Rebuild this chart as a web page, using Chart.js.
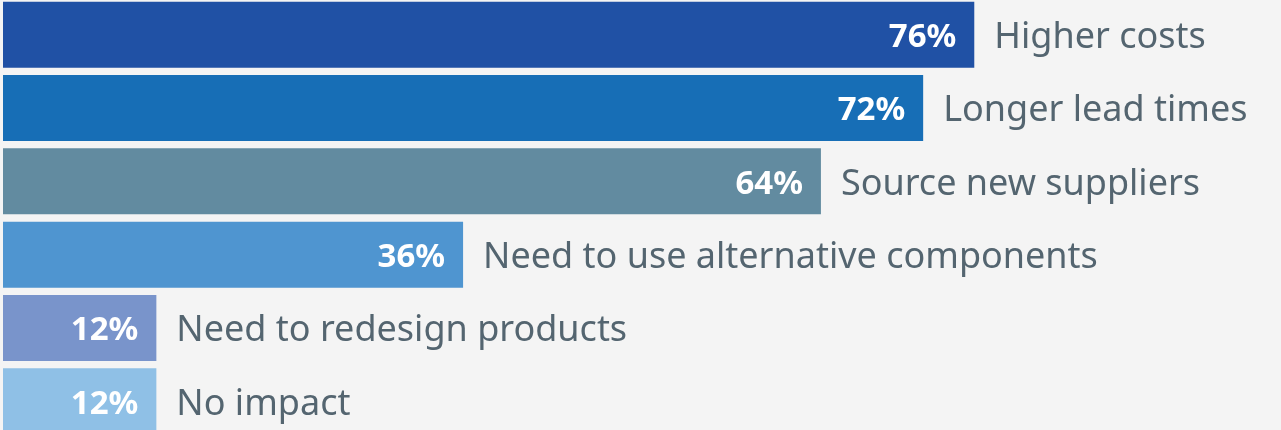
<!DOCTYPE html>
<html>
<head>
<meta charset="utf-8">
<script src="https://cdn.jsdelivr.net/npm/chart.js@4.4.1/dist/chart.umd.min.js"></script>
<style>
  html, body { margin: 0; padding: 0; background: #f4f4f4; overflow: hidden; }
  #wrap { position: absolute; left: 0; top: -2px; width: 1281px; height: 440px; }
</style>
</head>
<body>
<div id="wrap"><canvas id="c"></canvas></div>
<script>
const categories = [
  'Higher costs',
  'Longer lead times',
  'Source new suppliers',
  'Need to use alternative components',
  'Need to redesign products',
  'No impact'
];
const shares = [76, 72, 64, 36, 12, 12];
const barColors = ['#2051a5', '#176eb6', '#628ba0', '#4f95d0', '#7994cb', '#8fc0e6'];

const FONT = '"Noto Sans", "Open Sans", sans-serif';

// Writes the percentage inside each bar end and the category name after it
const barLabels = {
  id: 'barLabels',
  afterDatasetsDraw(chart) {
    const ctx = chart.ctx;
    const meta = chart.getDatasetMeta(0);
    ctx.save();
    ctx.textBaseline = 'middle';
    meta.data.forEach((bar, i) => {
      const y = bar.y;
      ctx.fillStyle = '#ffffff';
      ctx.font = 'bold 33px ' + FONT;
      ctx.textAlign = 'right';
      ctx.fillText(shares[i] + '%', bar.x - 18, y + 3);
      ctx.fillStyle = '#546570';
      ctx.font = '36px ' + FONT;
      ctx.textAlign = 'left';
      ctx.fillText(categories[i], bar.x + 20, y + 3);
    });
    ctx.restore();
  }
};

new Chart(document.getElementById('c'), {
  type: 'bar',
  data: {
    labels: categories,
    datasets: [{
      data: shares,
      backgroundColor: barColors,
      borderWidth: 0,
      categoryPercentage: 1,
      barPercentage: 0.9
    }]
  },
  options: {
    indexAxis: 'y',
    responsive: true,
    maintainAspectRatio: false,
    animation: false,
    layout: { padding: { left: 3, right: 0, top: 0, bottom: 0 } },
    plugins: { legend: { display: false }, tooltip: { enabled: false } },
    scales: {
      x: { display: false, min: 0, max: 100 },
      y: { display: false }
    }
  },
  plugins: [barLabels]
});
</script>
</body>
</html>
